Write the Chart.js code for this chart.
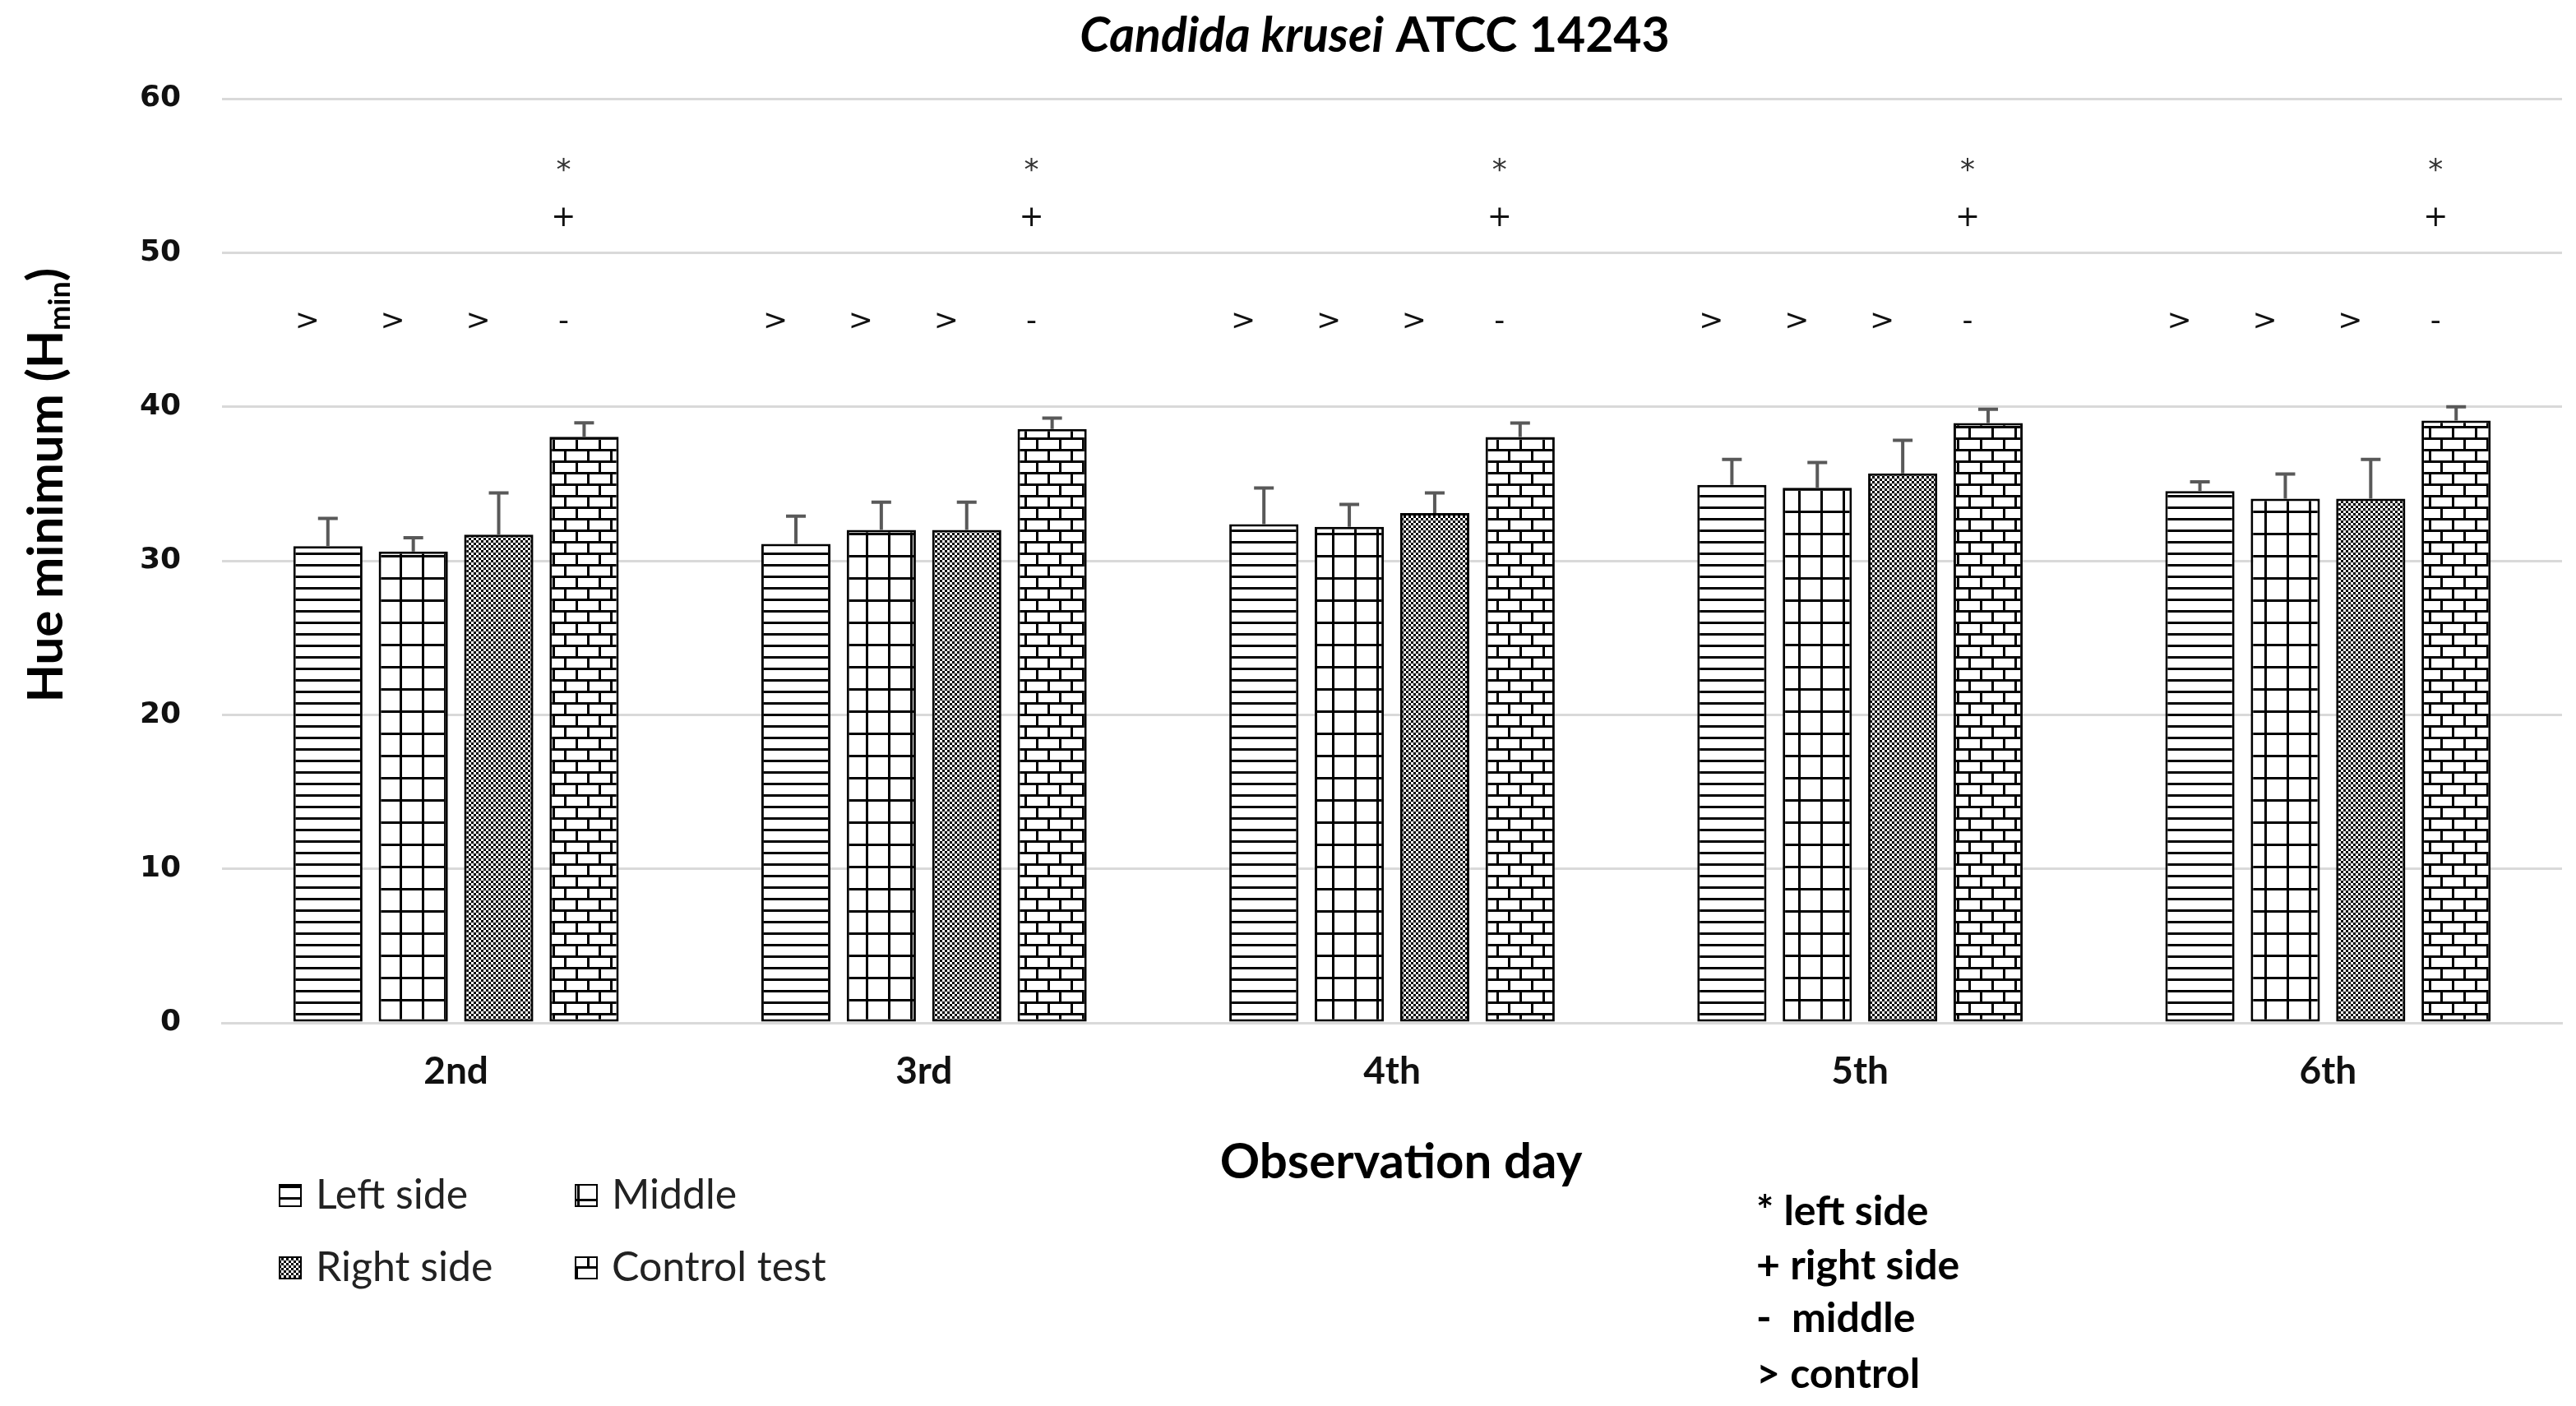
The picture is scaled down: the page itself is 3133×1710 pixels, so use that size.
<!DOCTYPE html>
<html>
<head>
<meta charset="utf-8">
<script src="https://cdn.jsdelivr.net/npm/chart.js@4.4.1/dist/chart.umd.min.js"></script>
<style>
  html, body { margin: 0; padding: 0; background: #fff; }
</style>
</head>
<body>
<canvas id="c" width="3133" height="1710"></canvas>
<script>
// values
const days = ["2nd", "3rd", "4th", "5th", "6th"];
const leftSide = [30.95, 31.1, 32.37, 34.93, 34.52];
const leftErr = [1.8, 1.8, 2.35, 1.65, 0.6];
const middle = [30.6, 32.0, 32.2, 34.74, 34.03];
const middleErr = [0.9, 1.8, 1.45, 1.64, 1.6];
const rightSide = [31.7, 32.0, 33.1, 35.67, 34.03];
const rightErr = [2.7, 1.8, 1.3, 2.15, 2.55];
const control = [38.05, 38.56, 38.04, 38.94, 39.1];
const controlErr = [0.9, 0.7, 0.9, 0.9, 0.9];

// significance marks above the bars
const sideMark = ">";
const sideMarkY = 45.5;
const controlMarks = ["*", "+", "-"];
const controlMarkY = [55.7, 52.2, 45.5];

const keyLines = ["* left side", "+ right side", "-  middle", "> control"];

const canvas = document.getElementById("c");
const ctx = canvas.getContext("2d");

function tile(w, h, draw) {
    const t = document.createElement("canvas");
    t.width = w;
    t.height = h;
    const g = t.getContext("2d");
    g.fillStyle = "#fff";
    g.fillRect(0, 0, w, h);
    g.fillStyle = "#000";
    draw(g);
    return ctx.createPattern(t, "repeat");
}

const patterns = {
    hlines: tile(14, 14, (g) => g.fillRect(0, 0, 14, 3)),
    grid: tile(27, 27, (g) => { g.fillRect(0, 0, 27, 3); g.fillRect(0, 0, 3, 27); }),
    checker: tile(6, 6, (g) => { g.fillRect(0, 0, 3, 3); g.fillRect(3, 3, 3, 3); }),
    brick: tile(28, 28, (g) => {
        g.fillRect(0, 0, 28, 3);
        g.fillRect(0, 14, 28, 3);
        g.fillRect(0, 0, 3, 14);
        g.fillRect(14, 14, 3, 14);
    }),
};

const errs = [leftErr, middleErr, rightErr, controlErr];

const overlay = {
    id: "overlay",
    afterDatasetsDraw(chart) {
        const c = chart.ctx;
        const y = chart.scales.y;
        c.save();
        // error bars
        c.strokeStyle = "#595959";
        c.lineWidth = 4;
        chart.data.datasets.forEach((ds, i) => {
            chart.getDatasetMeta(i).data.forEach((el, j) => {
                const top = y.getPixelForValue(ds.data[j] + errs[i][j]);
                c.beginPath();
                c.moveTo(el.x, el.y);
                c.lineTo(el.x, top);
                c.moveTo(el.x - 12, top);
                c.lineTo(el.x + 12, top);
                c.stroke();
            });
        });
        // marks
        c.fillStyle = "#111";
        c.font = "36px 'DejaVu Sans'";
        c.textAlign = "center";
        c.textBaseline = "middle";
        for (let i = 0; i < 3; i++) {
            chart.getDatasetMeta(i).data.forEach((el) => {
                c.fillText(sideMark, el.x - 25, y.getPixelForValue(sideMarkY));
            });
        }
        chart.getDatasetMeta(3).data.forEach((el) => {
            controlMarks.forEach((m, k) => {
                const dy = m === "*" ? 8 : 0;
                c.fillStyle = m === "*" ? "#333" : "#111";
                c.fillText(m, el.x - 25, y.getPixelForValue(controlMarkY[k]) + dy);
            });
        });
        c.restore();
    },
    afterDraw(chart) {
        const c = chart.ctx;
        const area = chart.chartArea;
        c.save();
        c.fillStyle = "#000";
        c.textBaseline = "middle";

        // title: italic species name + strain
        const t1 = "Candida krusei";
        const t2 = " ATCC 14243";
        c.font = "italic bold 59px Lato";
        const w1 = c.measureText(t1).width;
        c.font = "bold 59px Lato";
        const w2 = c.measureText(t2).width;
        let tx = 1672 - (w1 + w2) / 2;
        c.textAlign = "left";
        c.font = "italic bold 59px Lato";
        c.fillText(t1, tx, 44);
        c.font = "bold 59px Lato";
        c.fillText(t2, tx + w1, 44);

        // y axis title with subscript
        c.save();
        c.translate(57, 590);
        c.rotate(-Math.PI / 2);
        const a = "Hue minimum (H";
        const sub = "min";
        const b = ")";
        c.font = "bold 60px Lato";
        const wa = c.measureText(a).width;
        const wb = c.measureText(b).width;
        c.font = "bold 36px Lato";
        const ws = c.measureText(sub).width;
        let sx = -(wa + ws + wb) / 2;
        c.font = "bold 60px Lato";
        c.fillText(a, sx, 0);
        c.font = "bold 36px Lato";
        c.fillText(sub, sx + wa, 16);
        c.font = "bold 60px Lato";
        c.fillText(b, sx + wa + ws, 0);
        c.restore();

        // x axis title
        c.textAlign = "center";
        c.font = "bold 60px Lato";
        c.fillText("Observation day", 1704, 1414);

        // legend, two columns
        c.textAlign = "left";
        c.font = "50px Lato";
        const cols = [340, 700];
        const rows = [1454, 1542];
        chart.data.datasets.forEach((ds, i) => {
            const lx = cols[i % 2];
            const ly = rows[Math.floor(i / 2)];
            c.fillStyle = ds.backgroundColor;
            c.fillRect(lx, ly - 13, 26, 26);
            c.strokeStyle = "#000";
            c.lineWidth = 2;
            c.strokeRect(lx, ly - 13, 26, 26);
            c.fillStyle = "#222";
            c.fillText(ds.label, lx + 44, ly);
        });

        // key of the marks
        c.fillStyle = "#000";
        c.font = "bold 50px Lato";
        keyLines.forEach((s, k) => {
            c.fillText(s, 2136, [1474, 1540, 1604, 1672][k]);
        });
        c.restore();
    },
};

function bar(label, data, pattern) {
    return {
        label: label,
        data: data,
        backgroundColor: pattern,
        borderColor: "#000",
        borderWidth: 3,
        borderSkipped: false,
    };
}

new Chart(ctx, {
    type: "bar",
    data: {
        labels: days,
        datasets: [
            bar("Left side", leftSide, patterns.hlines),
            bar("Middle", middle, patterns.grid),
            bar("Right side", rightSide, patterns.checker),
            bar("Control test", control, patterns.brick),
        ],
    },
    options: {
        responsive: false,
        devicePixelRatio: 1,
        animation: false,
        layout: { padding: { top: 120, right: 17, left: 0, bottom: 0 } },
        datasets: { bar: { categoryPercentage: 0.73, barPercentage: 0.81 } },
        plugins: {
            legend: { display: false },
            title: { display: false },
            tooltip: { enabled: false },
        },
        scales: {
            x: {
                grid: { display: false, drawTicks: false },
                border: { display: true, color: "#d9d9d9", width: 3 },
                ticks: { font: { family: "Lato", weight: "bold", size: 46 }, color: "#111", padding: 32 },
                afterFit: (s) => { s.height = 1710 - 1244; },
            },
            y: {
                min: 0,
                max: 60,
                ticks: { stepSize: 10, font: { family: "DejaVu Sans", weight: "bold", size: 36 }, color: "#111", padding: 50 },
                grid: { color: "#d9d9d9", lineWidth: 3, drawTicks: false },
                border: { display: false },
                afterFit: (s) => { s.width = 270; },
            },
        },
    },
    plugins: [overlay],
});
</script>
</body>
</html>
